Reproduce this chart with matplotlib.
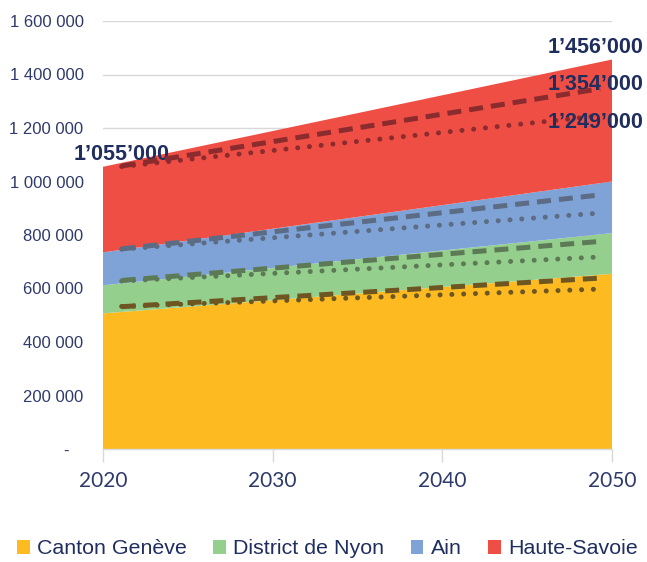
import matplotlib
matplotlib.use("Agg")
import matplotlib.pyplot as plt
from matplotlib.patches import Patch

# ---- data ----
years = [2020, 2050]
geneve = [507000, 655000]
nyon = [105000, 152000]
ain = [123000, 193000]
haute_savoie = [320000, 456000]

series_names = ["Canton Genève", "District de Nyon", "Ain", "Haute-Savoie"]

scen_years = [2021.1, 2049.3]
# cumulative scenario lines (dashed = high, dotted = low)
dashed_geneve = [532000, 639000]
dotted_geneve = [533000, 598000]
dashed_nyon = [630000, 776000]
dotted_nyon = [628000, 718000]
dashed_ain = [748000, 950000]
dotted_ain = [747000, 882000]
dashed_hs = [1058000, 1347000]
dotted_hs = [1056000, 1246000]

yticks = [0, 200000, 400000, 600000, 800000, 1000000, 1200000, 1400000, 1600000]
ytick_labels = ["-   ", "200 000", "400 000", "600 000", "800 000", "1 000 000",
                "1 200 000", "1 400 000", "1 600 000"]
xticks = [2020, 2030, 2040, 2050]

labels_text = ["1’055’000", "1’456’000", "1’354’000", "1’249’000"]

# ---- style ----
colors = ["#FDBA21", "#95CF8E", "#7FA3D6", "#EF4E45"]
line_colors = ["#6E5622", "#5C7A55", "#5B6C84", "#8C2B2E"]
navy = "#1F2E5E"
tick_col = "#2E3A6B"

fig = plt.figure(figsize=(6.47, 5.62), dpi=100)
ax = fig.add_axes([103/647, 1-449/562, (612-103)/647, (449-21)/562])

ax.stackplot(years, geneve, nyon, ain, haute_savoie, colors=colors, zorder=2)

pairs = [(dashed_geneve, dotted_geneve), (dashed_nyon, dotted_nyon),
         (dashed_ain, dotted_ain), (dashed_hs, dotted_hs)]
for (d, o), c in zip(pairs, line_colors):
    ax.plot(scen_years, o, color=c, lw=3.6, linestyle=(0, (0.01, 2.35)),
            dash_capstyle="round", solid_capstyle="round", zorder=3)
    ax.plot(scen_years, d, color=c, lw=3.6, linestyle=(0, (2.8, 1.6)),
            dash_capstyle="butt", zorder=4)

ax.set_xlim(2020, 2050)
ax.set_ylim(0, 1600000)
ax.set_yticks(yticks)
ax.set_yticklabels(ytick_labels, fontfamily="Liberation Sans", fontsize=12, color=tick_col)
ax.set_xticks(xticks)
ax.set_xticklabels([str(x) for x in xticks], fontfamily="Lato", fontsize=15, color=tick_col)
ax.grid(axis="y", color="#D9D9D9", lw=1.0, zorder=0)
ax.set_axisbelow(True)
for s in ["top", "right", "left"]:
    ax.spines[s].set_visible(False)
ax.spines["bottom"].set_color("#D9D9D9")
ax.spines["bottom"].set_linewidth(1.0)
ax.tick_params(axis="y", length=0, pad=14)
ax.tick_params(axis="x", length=9, color="#D9D9D9", width=1.0, pad=7)

# value labels
tx = dict(fontfamily="Liberation Sans", fontweight="bold", fontsize=15.5, color=navy)
ax.text(2018.25, 1100000, labels_text[0], ha="left", va="center", **tx)
ax.text(2051.85, 1500000, labels_text[1], ha="right", va="center", **tx, clip_on=False)
ax.text(2051.85, 1362000, labels_text[2], ha="right", va="center", **tx, clip_on=False)
ax.text(2051.85, 1220000, labels_text[3], ha="right", va="center", **tx, clip_on=False)

handles = [Patch(facecolor=c, edgecolor="none") for c in colors]
fig.legend(handles, series_names, loc="center", bbox_to_anchor=(0.506, 1-549/562),
           ncol=4, frameon=False, handlelength=0.6, handleheight=0.6,
           handletextpad=0.35, columnspacing=1.22,
           prop=dict(family="Liberation Sans", size=15.4), labelcolor=navy)

fig.savefig("out.png", dpi=100)
